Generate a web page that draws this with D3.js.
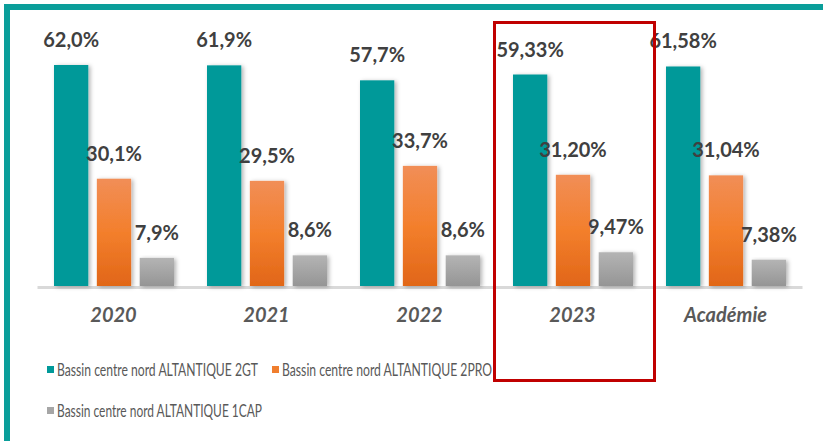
<!DOCTYPE html>
<html lang="fr">
<head>
<meta charset="utf-8">
<title>Bassin centre nord ALTANTIQUE</title>
<style>
    body { margin: 0; background: #fff; }
    svg { display: block; }
    .val { font-family: Lato, "Open Sans", sans-serif; font-weight: 700; font-size: 20px; fill: #404040; }
    .cat { font-family: Lato, "Open Sans", sans-serif; font-weight: 700; font-style: italic; font-size: 20px; fill: #595959; }
    .leg { font-family: Lato, "Open Sans", sans-serif; font-size: 17px; fill: #595959; }
</style>
</head>
<body>
<svg width="823" height="441"></svg>
<script src="https://cdn.jsdelivr.net/npm/d3@7"></script>
<script>
    // données
    const categories = ["2020", "2021", "2022", "2023", "Académie"];
    const series = ["Bassin centre nord ALTANTIQUE 2GT", "Bassin centre nord ALTANTIQUE 2PRO", "Bassin centre nord ALTANTIQUE 1CAP"];
    const values2GT = [62.0, 61.9, 57.7, 59.33, 61.58];
    const values2PRO = [30.1, 29.5, 33.7, 31.20, 31.04];
    const values1CAP = [7.9, 8.6, 8.6, 9.47, 7.38];
    const decimals = [1, 1, 1, 2, 2];
    const colors = ["#009999", "url(#gradOrange)", "url(#gradGray)"];
    const legendColors = ["#009999", "#F07E2E", "#A6A6A6"];

    const allValues = [values2GT, values2PRO, values1CAP];

    const svg = d3.select("svg");

    // dégradés + ombre
    const defs = svg.append("defs");
    const go = defs.append("linearGradient").attr("id", "gradOrange")
        .attr("x1", 0).attr("y1", 0).attr("x2", 0).attr("y2", 1);
    go.append("stop").attr("offset", "0%").attr("stop-color", "#F18E57");
    go.append("stop").attr("offset", "50%").attr("stop-color", "#F37F2C");
    go.append("stop").attr("offset", "100%").attr("stop-color", "#E16618");
    const gg = defs.append("linearGradient").attr("id", "gradGray")
        .attr("x1", 0).attr("y1", 0).attr("x2", 0).attr("y2", 1);
    gg.append("stop").attr("offset", "0%").attr("stop-color", "#B4B4B4");
    gg.append("stop").attr("offset", "100%").attr("stop-color", "#959595");
    const sh = defs.append("filter").attr("id", "shadow")
        .attr("x", "-30%").attr("y", "-10%").attr("width", "160%").attr("height", "130%");
    sh.append("feDropShadow").attr("dx", 2).attr("dy", 1).attr("stdDeviation", 2)
        .attr("flood-color", "#000").attr("flood-opacity", 0.3);

    // cadre turquoise
    svg.append("line").attr("x1", 4).attr("x2", 823).attr("y1", 7).attr("y2", 7)
        .attr("stroke", "#0A9E9A").attr("stroke-width", 6);
    svg.append("line").attr("x1", 7).attr("x2", 7).attr("y1", 4).attr("y2", 441)
        .attr("stroke", "#0A9E9A").attr("stroke-width", 6);

    // échelles
    const x0 = d3.scaleBand().domain(categories).range([37, 802]);
    const x1 = d3.scaleBand().domain(series).range([17, 137]).paddingInner(0.2);
    const y = d3.scaleLinear().domain([0, 62]).range([286, 65]);

    // axe horizontal
    const xAxis = svg.append("g")
        .attr("transform", "translate(0,287)")
        .call(d3.axisBottom(x0).tickSize(0).tickPadding(24));
    xAxis.select(".domain").attr("stroke", "#D9D9D9").attr("stroke-width", 3);
    xAxis.selectAll("text").attr("class", "cat").attr("font-size", null).attr("font-family", null)
        .attr("fill", null).attr("dy", "0.55em");

    const fmt = (v, i) => v.toFixed(decimals[i]).replace(".", ",") + "%";

    series.forEach(function (s, si) {
        const g = svg.append("g");
        g.selectAll("rect")
            .data(allValues[si])
            .enter()
            .append("rect")
            .attr("x", (d, i) => x0(categories[i]) + x1(s))
            .attr("y", d => y(d))
            .attr("width", x1.bandwidth())
            .attr("height", d => y(0) - y(d))
            .attr("fill", colors[si])
            .attr("filter", "url(#shadow)");
        g.selectAll("text")
            .data(allValues[si])
            .enter()
            .append("text")
            .attr("class", "val")
            .attr("text-anchor", "middle")
            .attr("x", (d, i) => x0(categories[i]) + x1(s) + x1.bandwidth() / 2)
            .attr("y", d => y(d) - 18)
            .text((d, i) => fmt(d, i));
    });

    // légende (police étroite comme dans l'original)
    const legendPos = [[47, 370], [272, 370], [47, 411]];
    const legendWidth = [201, 210, 205];
    series.forEach(function (s, si) {
        const lg = svg.append("g").attr("transform", "translate(" + legendPos[si][0] + "," + legendPos[si][1] + ")");
        lg.append("rect").attr("x", 0).attr("y", -4).attr("width", 7).attr("height", 7)
            .attr("fill", legendColors[si]);
        lg.append("text").attr("class", "leg").attr("x", 10).attr("y", 6)
            .attr("textLength", legendWidth[si]).attr("lengthAdjust", "spacingAndGlyphs")
            .text(s);
    });

    // cadre rouge autour de 2023
    svg.append("rect")
        .attr("x", 494.5).attr("y", 22.5).attr("width", 160).attr("height", 358)
        .attr("fill", "none").attr("stroke", "#C00000").attr("stroke-width", 3);
</script>
</body>
</html>
